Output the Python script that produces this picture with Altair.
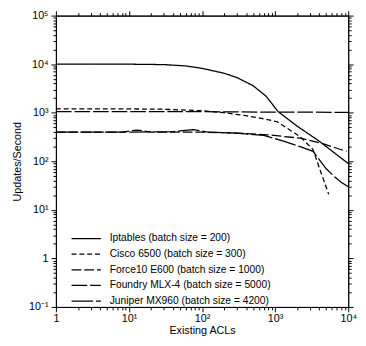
import altair as alt
import pandas as pd

series = [
    "Iptables (batch size = 200)",
    "Cisco 6500 (batch size = 300)",
    "Force10 E600 (batch size = 1000)",
    "Foundry MLX-4 (batch size = 5000)",
    "Juniper MX960 (batch size = 4200)",
]

ipt_x = [1, 10, 30, 60, 100, 200, 300, 500, 750, 1100, 2000, 4000, 10000]
ipt_y = [10000, 10000, 9800, 9200, 8200, 6500, 5300, 3600, 2200, 1050, 530, 260, 90]
cisco_x = [1, 10, 30, 100, 200, 400, 700, 1070, 2200, 3300, 4000, 5400]
cisco_y = [1200, 1200, 1180, 1100, 1000, 870, 750, 650, 320, 175, 75, 21]
f10_x = [1, 8, 13, 20, 100, 300, 800, 2200, 4500, 9500]
f10_y = [400, 400, 440, 400, 400, 380, 350, 300, 230, 160]
fdy_x = [1, 100, 1000, 10000]
fdy_y = [1050, 1050, 1030, 1020]
jun_x = [1, 10, 40, 75, 120, 300, 700, 1300, 2200, 3300, 5000, 6500, 8000, 10000]
jun_y = [400, 400, 410, 450, 400, 380, 340, 260, 200, 160, 70, 48, 37, 30]

x_major = [1, 10, 100, 1000, 10000]
x_minor = [float(f"{m}e{k}") for k in range(0, 4) for m in range(2, 10)]
y_major = [0.1, 1, 10, 100, 1000, 10000, 100000]
y_minor = [float(f"{m}e{k}") for k in range(-1, 5) for m in range(2, 10)]

x_labels = {1: "1", 10: "10¹", 100: "10²", 1000: "10³", 10000: "10⁴"}
y_labels = {0.1: "10⁻¹", 1: "1", 10: "10¹", 100: "10²", 1000: "10³", 10000: "10⁴", 100000: "10⁵"}

dash_range = [[1, 0], [5, 3], [10, 3], [16, 3], [22, 3]]

rows = []
for name, xs, ys in zip(series, [ipt_x, cisco_x, f10_x, fdy_x, jun_x], [ipt_y, cisco_y, f10_y, fdy_y, jun_y]):
    for i, (a, b) in enumerate(zip(xs, ys)):
        rows.append({"series": name, "x": a, "y": b, "i": i})
df = pd.DataFrame(rows)


def label_expr(d):
    parts = [f"datum.value == {k} ? '{v}'" for k, v in d.items()]
    return " : ".join(parts) + " : ''"


def major_test(vals):
    return "indexof([" + ",".join(str(v) for v in vals) + "], datum.value) >= 0"


FONT = "Liberation Sans"
xt = {"condition": {"test": major_test(x_major), "value": 5}, "value": 3}
yt = {"condition": {"test": major_test(y_major), "value": 5}, "value": 3}

xscale = alt.Scale(type="log", domain=[1, 10000], nice=False)
yscale = alt.Scale(type="log", domain=[0.1, 100000], nice=False)

common = dict(grid=False, domainColor="black", tickColor="black", domainWidth=1, tickWidth=1,
              labelColor="black", labelFont=FONT, labelFontSize=11, labelOverlap=False,
              titleFont=FONT, titleFontSize=11, titleFontWeight="normal", titleColor="black")

lines = alt.Chart(df).mark_line(color="black", strokeWidth=1.3, clip=True).encode(
    x=alt.X("x:Q", scale=xscale,
            axis=alt.Axis(values=x_major + x_minor, labelExpr=label_expr(x_labels), tickSize=xt,
                          title="Existing ACLs", labelFlush=False, labelPadding=1, titlePadding=1, **common)),
    y=alt.Y("y:Q", scale=yscale,
            axis=alt.Axis(values=y_major + y_minor, labelExpr=label_expr(y_labels), tickSize=yt,
                          title="Updates/Second", labelFlush=False, labelPadding=3, titlePadding=6, **common)),
    strokeDash=alt.StrokeDash("series:N", scale=alt.Scale(domain=series, range=dash_range),
                              legend=alt.Legend(title=None, orient="none", legendX=15, legendY=222,
                                                symbolType="M-1,0H5", symbolSize=100, symbolStrokeWidth=1.3,
                                                symbolStrokeColor="black", symbolFillColor="transparent",
                                                labelFont=FONT, labelFontSize=10.5, labelLimit=0,
                                                labelColor="black", rowPadding=4, labelOffset=28, padding=0)),
    order="i:Q",
)

mirror = alt.Chart(df).mark_line(opacity=0).encode(
    x=alt.X("x:Q", scale=xscale,
            axis=alt.Axis(orient="top", values=x_major + x_minor, labels=False, tickSize=xt, title=None, **common)),
    y=alt.Y("y:Q", scale=yscale,
            axis=alt.Axis(orient="right", values=y_major + y_minor, labels=False, tickSize=yt, title=None, **common)),
    detail="series:N",
    order="i:Q",
)

chart = alt.layer(lines, mirror).resolve_axis(x="independent", y="independent").properties(
    width=299, height=298,
    padding={"left": 49, "top": 4, "right": 10, "bottom": 30},
    autosize=alt.AutoSizeParams(type="none"),
).configure_view(stroke="black", strokeWidth=1)

chart.save("out.html", embed_options={"renderer": "svg", "actions": False})
